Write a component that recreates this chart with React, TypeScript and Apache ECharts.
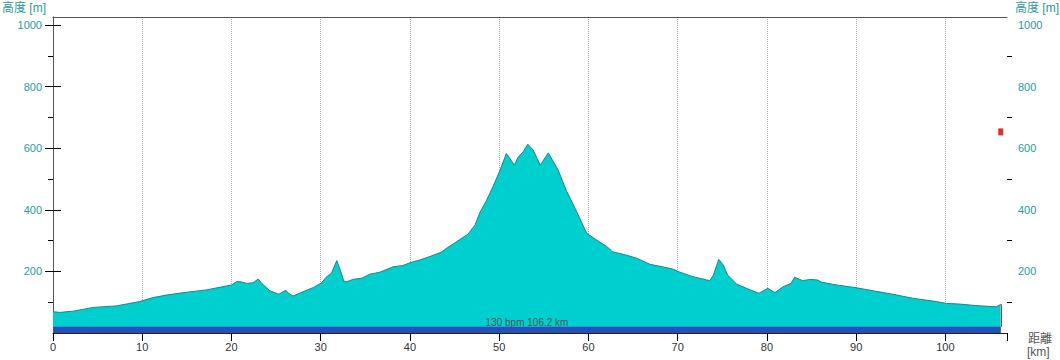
import React, { useEffect, useRef } from "react";
import * as echarts from "echarts";

// Elevation profile: distance (km) and altitude (m)
const distanceKm = [
  0, 0.8, 2.3, 4.5, 7.1, 9.7, 11.2, 12.7, 14.6, 17.2, 20.0, 20.6, 21.1, 21.7, 22.4, 23.0, 23.4,
  24.3, 25.3, 26.1, 26.3, 26.9, 28.0, 29.2, 30.1, 30.6, 31.2, 31.8, 32.1, 32.6, 32.9, 33.6, 34.6,
  35.5, 36.6, 38.1, 39.2, 40.0, 41.1, 42.2, 43.5, 44.1, 45.2, 46.5, 47.3, 47.8, 48.6, 49.3, 50.1,
  50.8, 51.7, 52.1, 52.7, 53.2, 53.8, 54.6, 55.5, 56.6, 57.5, 58.5, 59.8, 60.9, 62.0, 62.7, 64.2,
  65.4, 66.9, 68.3, 69.5, 70.2, 71.7, 73.6, 74.0, 74.6, 75.1, 75.6, 76.6, 77.7, 79.1, 80.1, 80.9,
  81.8, 82.7, 83.1, 84.0, 84.8, 85.7, 86.1, 87.8, 90.0, 91.9, 94.1, 96.3, 99.0, 100.1, 101.6,
  103.4, 105.7, 106.2,
];
const elevationM = [
  69, 67, 71, 83, 88, 102, 115, 123, 131, 140, 156, 167, 166, 161, 163, 175, 161,
  137, 126, 139, 131, 120, 134, 148, 163, 181, 194, 235, 212, 168, 166, 174, 178,
  191, 197, 215, 219, 228, 237, 248, 262, 275, 296, 321, 351, 389, 432, 475, 529,
  583, 545, 570, 589, 613, 594, 545, 585, 529, 464, 405, 324, 302, 282, 264, 253,
  243, 223, 215, 207, 198, 183, 170, 188, 239, 221, 188, 159, 145, 129, 145, 131,
  150, 161, 181, 170, 174, 172, 165, 156, 147, 137, 126, 113, 102, 96, 94,
  89, 85, 93,
];

const xTickValues = [0, 10, 20, 30, 40, 50, 60, 70, 80, 90, 100];
const yMajorTicks = [200, 400, 600, 800, 1000];
const yMinorTicks = [100, 300, 500, 700, 900];

const totalKm = 106.2;
const heartRateBandKm = [0, 106.2];
const heartRateBandTop = 20;
const heartRateLabel = "130 bpm 106.2 km";
const currentMarker: [number, number] = [106.2, 653];

const X_MAX = 106.9;
const Y_MAX = 1026;

const FONT = '"Liberation Sans", "Noto Sans CJK JP", sans-serif';
const TEAL = "#2a9a9a";

export default function App() {
  const ref = useRef<HTMLDivElement>(null);

  useEffect(() => {
    document.body.style.margin = "0";
    if (!ref.current) return;
    const chart = echarts.init(ref.current, undefined, { renderer: "svg" });

    const profile = distanceKm.map((d, i) => [d, elevationM[i]]);
    const band = heartRateBandKm.map((d) => [d, heartRateBandTop]);

    const majorY = (position: "left" | "right") => ({
      type: "value",
      position,
      min: 0,
      max: Y_MAX,
      interval: 200,
      axisLine: { show: true, lineStyle: { color: "#555", width: 1 } },
      axisTick: {
        show: true,
        length: 8,
        customValues: yMajorTicks,
        lineStyle: { color: "#000" },
      },
      axisLabel: {
        show: true,
        customValues: yMajorTicks,
        margin: 11,
        color: TEAL,
        fontSize: 11,
        fontFamily: FONT,
        formatter: (v: number) => String(v),
      },
      splitLine: { show: false },
    });
    const minorY = (position: "left" | "right") => ({
      type: "value",
      position,
      min: 0,
      max: Y_MAX,
      interval: 100,
      axisLine: { show: false },
      axisTick: {
        show: true,
        length: 5,
        customValues: yMinorTicks,
        lineStyle: { color: "#000" },
      },
      axisLabel: { show: false },
      splitLine: { show: false },
    });

    chart.setOption({
      animation: false,
      backgroundColor: "#fff",
      grid: { left: 53, right: 53, top: 17, bottom: 27, containLabel: false },
      xAxis: [
        {
          type: "value",
          position: "bottom",
          min: 0,
          max: X_MAX,
          interval: 10,
          axisLine: { show: true, onZero: false, lineStyle: { color: "#222", width: 1 } },
          axisTick: { show: true, length: 8, lineStyle: { color: "#000" } },
          axisLabel: {
            margin: 8,
            color: "#333",
            fontSize: 11,
            fontFamily: FONT,
            formatter: (v: number) => (xTickValues.includes(v) ? String(v) : ""),
          },
          splitLine: {
            show: true,
            showMinLine: false,
            showMaxLine: false,
            lineStyle: { color: "#aaa", type: "dotted", width: 1 },
          },
        },
        {
          type: "value",
          position: "top",
          min: 0,
          max: X_MAX,
          axisLine: { show: true, onZero: false, lineStyle: { color: "#555", width: 1 } },
          axisTick: { show: false },
          axisLabel: { show: false },
          splitLine: { show: false },
        },
      ],
      yAxis: [majorY("left"), majorY("right"), minorY("left"), minorY("right")],
      series: [
        {
          type: "line",
          xAxisIndex: 0,
          yAxisIndex: 0,
          data: profile,
          showSymbol: false,
          symbol: "none",
          lineStyle: { color: "#1e8585", width: 1 },
          areaStyle: { color: "#00cfcf", opacity: 1 },
          z: 2,
          markLine: {
            silent: true,
            symbol: ["none", "none"],
            label: { show: false },
            lineStyle: { color: "#b03050", type: "solid", width: 1 },
            data: [[{ coord: [totalKm, heartRateBandTop] }, { coord: [totalKm, elevationM[elevationM.length - 1]] }]],
          },
        },
        {
          type: "line",
          xAxisIndex: 0,
          yAxisIndex: 0,
          data: band,
          showSymbol: false,
          symbol: "none",
          lineStyle: { width: 0 },
          areaStyle: { color: "#2a4fbd", opacity: 1 },
          z: 3,
        },
        {
          type: "scatter",
          xAxisIndex: 0,
          yAxisIndex: 0,
          data: [currentMarker],
          symbol: "rect",
          symbolSize: [5, 7],
          itemStyle: { color: "#e52b2b", opacity: 1 },
          z: 5,
        },
      ],
      graphic: [
        {
          type: "text",
          left: 2,
          top: 2,
          style: { text: "高度 [m]", fill: TEAL, font: `12px ${FONT}` },
        },
        {
          type: "text",
          left: 1015,
          top: 2,
          style: { text: "高度 [m]", fill: TEAL, font: `12px ${FONT}` },
        },
        {
          type: "text",
          left: 1028,
          top: 333,
          style: { text: "距離", fill: "#555", font: `12px ${FONT}` },
        },
        {
          type: "text",
          left: 1027,
          top: 346,
          style: { text: "[km]", fill: "#555", font: `12px ${FONT}` },
        },
        {
          type: "text",
          x: 527,
          y: 322,
          style: {
            text: heartRateLabel,
            fill: "#555",
            font: `10px ${FONT}`,
            textAlign: "center",
            textVerticalAlign: "middle",
          },
          z: 10,
        },
      ],
    });

    return () => chart.dispose();
  }, []);

  return <div ref={ref} style={{ width: 1060, height: 360 }} />;
}
